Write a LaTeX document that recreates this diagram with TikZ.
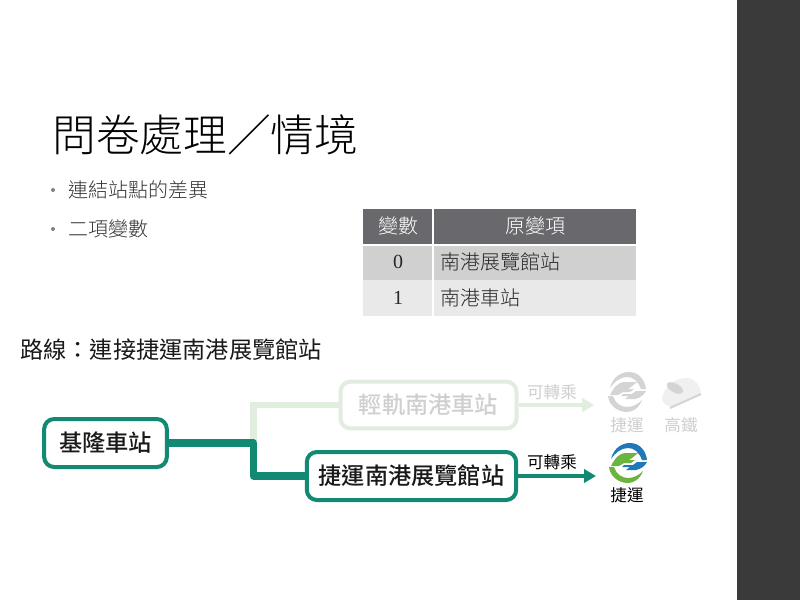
\documentclass[tikz,border=0pt]{standalone}
\usepackage{fontspec}
\setmainfont{Noto Sans CJK TC}[BoldFont={Noto Sans CJK TC Medium}]
\newfontfamily\lightfont{Noto Sans CJK TC Light}
\newfontfamily\numfont{Liberation Serif}
\usetikzlibrary{arrows.meta}
\definecolor{railgreen}{HTML}{128A73}
\definecolor{palegreen}{HTML}{E1EDDF}
\definecolor{paletext}{HTML}{CFCFCF}
\definecolor{sidebar}{HTML}{3A3A3A}
\definecolor{headgray}{HTML}{69686D}
\definecolor{rowdark}{HTML}{D0D0D0}
\definecolor{rowlight}{HTML}{E9E9E9}
\definecolor{logoblue}{HTML}{1F78B8}
\definecolor{logogreen}{HTML}{6DB33F}
\definecolor{logogray}{HTML}{D4D4D4}
\tikzset{
  station/.style={draw=railgreen, line width=3pt, rounded corners=7.5pt, fill=white,
    inner sep=0pt, font=\fontsize{17.4pt}{20pt}\selectfont\bfseries, text=black!90},
  palestation/.style={station, draw=palegreen, text=paletext},
  bullettext/.style={anchor=west, inner sep=0pt, font=\fontsize{15pt}{18pt}\selectfont\lightfont, text=black!80},
  cell/.style={inner sep=0pt, minimum height=26pt, font=\fontsize{15pt}{18pt}\selectfont\lightfont, text=black!85},
  transfer/.style={inner sep=0pt, font=\fontsize{12.4pt}{14pt}\selectfont},
  pics/mrtlogo/.style n args={2}{code={
    \fill[#1] (-17,-4) .. controls (-14,-16) and (-5,-20) .. (2,-20)
      .. controls (12,-20) and (18,-12) .. (19,-3) -- (14,-3)
      .. controls (11,-11) and (6,-15) .. (0,-15)
      .. controls (-7,-15) and (-13,-10) .. (-17,-4) -- cycle;
    \fill[#2] (-19,4) -- (-14,4) .. controls (-12,11) and (-6,15) .. (0,15)
      .. controls (6,15) and (11,12) .. (15,8)
      .. controls (12,16) and (6,20) .. (0,20)
      .. controls (-10,20) and (-18,13) .. (-19,4) -- cycle;
    \fill[#2] (-17,3) .. controls (-13,-5) and (-8,-10) .. (-3,-10) -- (10,-10) -- (4,-5)
      -- (1,-3) -- (7,-3) -- (3,0) -- (-4,0) -- (-9,3) -- cycle;
    \fill[#1] (19,-1) -- (9,-1) -- (5,2) -- (-4,2) -- (-6,4) -- (2,4) -- (-2,7) -- (8,7)
      .. controls (13,6) and (17,3) .. (19,-1) -- cycle;
  }},
}
\begin{document}
\begin{tikzpicture}[x=0.75pt, y=-0.75pt, >=Triangle]
    \useasboundingbox (0,0) rectangle (800,600);
    \fill[white] (0,0) rectangle (800,600);
    \fill[sidebar] (737,0) rectangle (800,600);

    \node[inner sep=0pt, anchor=west, font=\fontsize{32.8pt}{36pt}\selectfont\lightfont, text=black] (title) at (52,135) {問卷處理／情境};

    \fill[black!50] (53,190) circle (2);
    \fill[black!50] (53,229) circle (2);
    \node[bullettext] (itemA) at (68,190) {連結站點的差異};
    \node[bullettext] (itemB) at (68,229) {二項變數};

    % table
    \fill[headgray] (363,209) rectangle (432,244);
    \fill[headgray] (434,209) rectangle (636,244);
    \fill[rowdark] (363,246) rectangle (432,280);
    \fill[rowdark] (434,246) rectangle (636,280);
    \fill[rowlight] (363,280) rectangle (432,316);
    \fill[rowlight] (434,280) rectangle (636,316);
    \node[cell, text=white] (headA) at (398,226) {變數};
    \node[cell, text=white] (headB) at (535,226) {原變項};
    \node[cell] (zero) at (398,262) {\numfont 0};
    \node[cell] (one) at (398,298) {\numfont 1};
    \node[cell, anchor=west] (rowA) at (440,262) {南港展覽館站};
    \node[cell, anchor=west] (rowB) at (440,298) {南港車站};

    \node[inner sep=0pt, anchor=west, font=\fontsize{17.4pt}{20pt}\selectfont, text=black!90] (route) at (20,350) {路線：連接捷運南港展覽館站};

    \coordinate (fork) at (253.5,443);

    % pale branch first
    \node[palestation, minimum width=132pt, minimum height=35pt] (tram) at (428.5,405) {輕軌南港車站};
    \draw[palegreen, line width=5pt] (fork) |- (tram.west);
    \coordinate (tramEnd) at (594,405);
    \draw[-{Triangle[length=9pt,width=10pt]}, palegreen, line width=2.4pt] (tram.east) -- (tramEnd);

    % main branch
    \node[station, minimum width=92pt, minimum height=36pt] (keelung) at (105.5,443) {基隆車站};
    \node[station, minimum width=157pt, minimum height=36pt] (mrt) at (411.5,476) {捷運南港展覽館站};
    \draw[railgreen, line width=5.5pt, line join=round] (keelung.east) -- (fork) |- (mrt.west);
    \coordinate (mrtEnd) at (596,476);
    \draw[-{Triangle[length=9pt,width=10pt]}, railgreen, line width=2.4pt] (mrt.east) -- (mrtEnd);

    \node[transfer, text=paletext] (paleLabel) at (552,392) {可轉乘};
    \node[transfer] (mrtLabel) at (552,462) {可轉乘};

    % logos
    \pic at (627,392) {mrtlogo={logogray}{logogray}};
    \pic at (628,463) {mrtlogo={logoblue}{logogreen}};
    \fill[black!6] (662,398) .. controls (664,388) and (674,378) .. (686,378)
      .. controls (694,378) and (700,384) .. (701,394) -- (672,407) .. controls (666,406) and (662,403) .. (662,398) -- cycle;
    \fill[logogray, rotate around={-28:(675,388)}] (675,388) ellipse (9 and 4.5);
    \draw[logogray, line width=1.5pt] (670,408) -- (701,394);

    \node[transfer, text=paletext] (paleMrt) at (627,425) {捷運};
    \node[transfer, text=paletext] (paleHsr) at (681,425) {高鐵};
    \node[transfer] (mrtName) at (627,495) {捷運};
\end{tikzpicture}
\end{document}
